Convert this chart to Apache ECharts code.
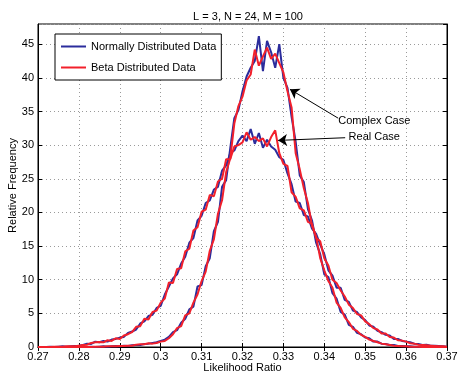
<!DOCTYPE html>
<html><head><meta charset="utf-8">
<script src="https://cdn.jsdelivr.net/npm/echarts@6/dist/echarts.min.js"></script>
<style>html,body{margin:0;padding:0;background:#fff}#c{width:458px;height:372px}</style>
</head><body><div id="c"></div><script>
const titleText = 'L = 3, N = 24, M = 100';
const xLabel = 'Likelihood Ratio';
const yLabel = 'Relative Frequency';
const legendNames = ['Normally Distributed Data', 'Beta Distributed Data'];

const xs = [0.270,0.271,0.272,0.273,0.274,0.275,0.276,0.277,0.278,0.279,
0.280,0.281,0.282,0.283,0.284,0.285,0.286,0.287,0.288,0.289,
0.290,0.291,0.292,0.293,0.294,0.295,0.296,0.297,0.298,0.299,
0.300,0.301,0.302,0.303,0.304,0.305,0.306,0.307,0.308,0.309,
0.310,0.311,0.312,0.313,0.314,0.315,0.316,0.317,0.318,0.319,
0.320,0.321,0.322,0.323,0.324,0.325,0.326,0.327,0.328,0.329,
0.330,0.331,0.332,0.333,0.334,0.335,0.336,0.337,0.338,0.339,
0.340,0.341,0.342,0.343,0.344,0.345,0.346,0.347,0.348,0.349,
0.350,0.351,0.352,0.353,0.354,0.355,0.356,0.357,0.358,0.359,
0.360,0.361,0.362,0.363,0.364,0.365,0.366,0.367,0.368,0.369,0.370];

// Complex case (narrow)
const complexNormal = [0,0,0,0,0,0,0,0,0,0,
0,0,0,0.05,0,0.05,0.1,0.05,0.1,0.15,
0.1,0.2,0.15,0.25,0.3,0.3,0.45,0.5,0.6,0.7,
0.9,1.1,1.5,2.2,2.5,3.6,4.2,5.6,6.0,9.0,
9.2,12.0,13.2,17.2,18.6,23.8,24.8,29.5,34.0,35.2,
38.0,40.2,41.5,42.5,46.2,41.0,45.5,43.8,41.5,45.0,
40.0,38.5,34.2,30.5,25.5,24.5,20.5,18.8,15.5,13.8,
10.8,10.4,8.0,7.2,5.2,4.8,3.3,3.0,2.1,1.9,
1.4,1.3,0.8,0.8,0.5,0.45,0.3,0.3,0.15,0.15,
0.1,0.1,0.05,0.05,0,0.05,0,0,0,0,0];
const complexBeta = [0,0,0,0,0,0,0,0,0,0,
0,0,0.05,0,0.05,0.05,0.05,0.1,0.1,0.1,
0.15,0.15,0.2,0.2,0.35,0.4,0.4,0.55,0.5,0.6,
0.8,0.9,1.3,1.9,2.8,3.1,4.7,5.0,6.6,7.8,
9.8,11.2,14.3,16.0,19.8,21.8,26.0,28.0,33.2,35.8,
37.2,39.6,40.5,44.2,41.8,43.2,44.5,42.8,43.6,42.2,
40.8,38.0,35.6,28.8,26.4,23.6,21.4,18.0,16.4,13.2,
11.4,9.8,8.8,6.6,5.8,4.4,3.7,2.7,2.4,1.8,
1.5,1.1,0.9,0.7,0.5,0.4,0.3,0.2,0.15,0.1,
0.1,0.05,0.05,0.05,0,0,0,0,0,0,0];
// Real case (wide)
const realNormal = [0,0,0,0.05,0,0.05,0.1,0.05,0.1,0.15,
0.2,0.3,0.5,0.45,0.8,0.7,0.9,0.8,1.1,1.2,
1.4,1.5,2.1,2.3,2.6,3.5,3.8,4.6,4.8,5.8,
6.1,7.8,9.0,10.2,10.8,12.4,13.4,15.5,16.2,18.8,
19.5,21.4,21.8,23.4,23.8,26.2,27.0,28.8,29.2,30.6,
31.4,30.6,32.4,30.2,31.8,29.6,30.8,29.8,29.3,28.2,
27.8,25.8,24.2,21.6,21.4,19.6,19.4,17.6,16.8,15.2,
13.8,11.4,10.6,8.8,8.8,7.0,6.7,5.4,5.2,4.4,
4.0,3.2,3.0,2.4,2.2,1.8,1.7,1.2,1.2,0.9,
0.8,0.7,0.5,0.45,0.3,0.35,0.2,0.2,0.15,0.1,0.05];
const realBeta = [0,0,0,0,0.05,0.05,0.05,0.1,0.1,0.1,
0.2,0.3,0.35,0.6,0.7,0.75,0.7,1.0,0.9,1.3,
1.2,1.7,1.9,2.2,3.0,3.1,4.2,4.1,5.2,5.4,
6.6,7.2,9.6,9.5,11.6,11.7,14.2,14.6,17.3,17.8,
20.1,20.4,22.6,22.4,24.6,25.0,27.9,27.9,29.8,30.0,
30.4,31.9,30.8,31.2,30.6,31.0,29.8,31.2,32.2,28.8,
27.2,26.9,23.0,22.3,20.6,20.3,18.6,18.3,16.2,15.7,
13.2,12.1,10.0,9.5,8.4,7.5,6.3,5.8,4.9,4.7,
3.8,3.4,2.8,2.6,2.0,2.0,1.5,1.4,1.0,0.95,
0.8,0.55,0.5,0.35,0.3,0.25,0.2,0.15,0.1,0.1,0.05];

// annotations
const annComplex = {text:'Complex Case', tail:[0.3434,34.0], tip:[0.3316,38.3], at:[0.3434,33.6]};
const annReal = {text:'Real Case', tail:[0.3451,31.1], tip:[0.3287,30.7], at:[0.3457,31.2]};

const BLUE = '#2b2c9c', RED = '#f2202b';
const FONT = 'Liberation Sans, Arial, sans-serif';
const zip = ys => xs.map((x,i)=>[x, ys[i]]);

const chart = echarts.init(document.getElementById('c'), null, {renderer:'canvas'});
const axisCommon = {
  type:'value',
  axisLine:{show:true, lineStyle:{color:'#000', width:1}},
  axisTick:{show:true, inside:true, length:4, lineStyle:{color:'#000'}},
  axisLabel:{color:'#000', fontFamily:FONT, fontSize:11},
};
const lineSeries = (name, ys, color, z) => ({
  name, type:'line', data: zip(ys), symbol:'none', showSymbol:false, z,
  lineStyle:{color, width:2}, itemStyle:{color}, animation:false, silent:true,
  xAxisIndex:0, yAxisIndex:0
});
const option = {
  animation:false,
  title:{text:titleText, left:243, top:6, textAlign:'center',
    textStyle:{fontFamily:FONT, fontSize:11, fontWeight:'normal', color:'#000'}},
  grid:{left:38, right:11, top:24, bottom:25, show:true, borderColor:'#000', borderWidth:1,
    backgroundColor:'#fff', containLabel:false, outerBoundsMode:'none'},
  legend:{
    data:legendNames.map(n=>({name:n, icon:'rect'})), orient:'vertical', left:55, top:34,
    padding:[6,5,6,6], itemGap:8, itemWidth:25, itemHeight:2,
    borderColor:'#000', borderWidth:1, backgroundColor:'#fff',
    textStyle:{fontFamily:FONT, fontSize:11, color:'#000', lineHeight:13}, selectedMode:false
  },
  xAxis:[
    Object.assign({}, axisCommon, {min:0.27, max:0.37, interval:0.01, position:'bottom',
      name:xLabel, nameLocation:'middle', nameGap:15, nameMoveOverlap:false,
      nameTextStyle:{fontFamily:FONT, fontSize:11, color:'#000'},
      axisLabel:{color:'#000', fontFamily:FONT, fontSize:11, margin:4},
      splitLine:{show:true, lineStyle:{color:'#9a9a9a', type:[1,3], width:1}}}),
    Object.assign({}, axisCommon, {min:0.27, max:0.37, interval:0.01, position:'top',
      axisLabel:{show:false}, splitLine:{show:false}})
  ],
  yAxis:[
    Object.assign({}, axisCommon, {min:0, max:48, interval:5, position:'left',
      name:yLabel, nameLocation:'middle', nameGap:20, nameMoveOverlap:false,
      nameTextStyle:{fontFamily:FONT, fontSize:11, color:'#000'},
      axisLabel:{color:'#000', fontFamily:FONT, fontSize:11, margin:4, showMaxLabel:false,
        formatter: v => (v % 5 === 0 ? String(v) : '')},
      splitLine:{show:true, lineStyle:{color:'#9a9a9a', type:[1,3], width:1}}}),
    Object.assign({}, axisCommon, {min:0, max:48, interval:5, position:'right',
      axisLabel:{show:false}, splitLine:{show:false}})
  ],
  series:[
    lineSeries(legendNames[0], complexNormal, BLUE, 2),
    lineSeries(legendNames[0], realNormal, BLUE, 2),
    lineSeries(legendNames[1], complexBeta, RED, 3),
    Object.assign(lineSeries(legendNames[1], realBeta, RED, 3), {
      markLine:{
        silent:true, animation:false, symbol:['none','arrow'], symbolSize:9,
        label:{show:false},
        lineStyle:{color:'#000', width:1, type:'solid'},
        emphasis:{disabled:true},
        data:[
          [{coord:annComplex.tail}, {coord:annComplex.tip}],
          [{coord:annReal.tail}, {coord:annReal.tip}]
        ]
      }
    })
  ]
};
chart.setOption(option);
const pc = chart.convertToPixel({gridIndex:0}, annComplex.at);
const pr = chart.convertToPixel({gridIndex:0}, annReal.at);
chart.setOption({graphic:[
  {type:'text', x:pc[0], y:pc[1], z:100, style:{text:annComplex.text, fontFamily:FONT, fontSize:11, fill:'#000', textAlign:'left', textVerticalAlign:'middle'}},
  {type:'text', x:pr[0]+1, y:pr[1], z:100, style:{text:annReal.text, fontFamily:FONT, fontSize:11, fill:'#000', textAlign:'left', textVerticalAlign:'middle'}}
]});
</script></body></html>
